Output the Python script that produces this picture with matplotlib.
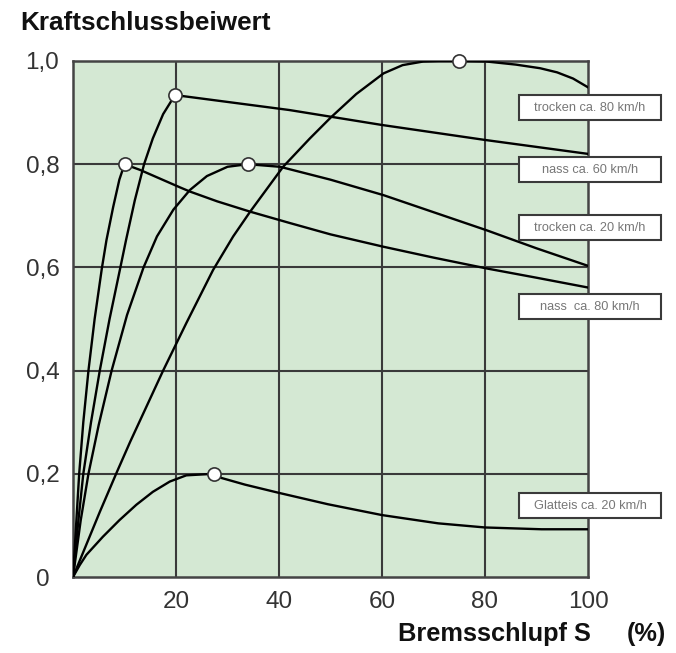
import matplotlib
matplotlib.use("Agg")
import matplotlib.pyplot as plt
from matplotlib.patches import Rectangle

plt.rcParams['font.family'] = ['Liberation Sans', 'DejaVu Sans']

# ---- data ----
# curve peaking at (75, 1.0)
xa = [0, 2.6, 5.2, 8.5, 11.1, 17.5, 22, 27.2, 31.1, 34.4, 40.8, 46, 50, 55, 60.3, 64, 68, 71, 75, 80.3, 86, 90.7, 94, 97.1, 100]
ya = [0, 0.063, 0.126, 0.203, 0.262, 0.4, 0.492, 0.595, 0.66, 0.708, 0.795, 0.85, 0.89, 0.936, 0.976, 0.992, 0.999, 1.0, 1.0, 0.999, 0.993, 0.986, 0.978, 0.966, 0.949]
# curve peaking at (20, 0.934)
xb = [0, 1, 2, 3.5, 5.2, 7.1, 9.2, 10.3, 12, 13.8, 15.5, 17.5, 19.8, 42, 60, 80, 100]
yb = [0, 0.105, 0.2, 0.3, 0.4, 0.5, 0.6, 0.653, 0.73, 0.8, 0.85, 0.897, 0.934, 0.905, 0.876, 0.847, 0.82]
# curve peaking at (34, 0.80)
xc = [0, 1.5, 3, 5, 7.5, 10.5, 13.7, 16.3, 19.5, 22.7, 26, 30, 33.9, 40.2, 50, 60.3, 70, 80.3, 90, 100]
yc = [0, 0.11, 0.2, 0.295, 0.4, 0.508, 0.6, 0.66, 0.712, 0.75, 0.777, 0.795, 0.80, 0.795, 0.77, 0.740, 0.707, 0.672, 0.637, 0.603]
# curve peaking at (10, 0.80)
xd = [0, 0.6, 1.2, 2, 3, 4.2, 5.6, 6.5, 7.8, 9, 10, 13, 20.8, 22.7, 28, 34.4, 42.1, 50, 60.3, 70, 80.3, 90, 100]
yd = [0, 0.1, 0.2, 0.3, 0.4, 0.5, 0.598, 0.653, 0.717, 0.77, 0.80, 0.789, 0.755, 0.747, 0.728, 0.708, 0.686, 0.664, 0.640, 0.619, 0.598, 0.580, 0.561]
# Glatteis curve peaking at (27.3, 0.2)
xe = [0, 1.3, 2.6, 5.8, 9, 12.3, 15.5, 18.8, 22, 27.3, 28.8, 33.4, 40, 49.5, 60, 70.9, 80, 91, 100]
ye = [0, 0.023, 0.043, 0.078, 0.11, 0.140, 0.165, 0.185, 0.197, 0.2, 0.192, 0.179, 0.163, 0.141, 0.120, 0.104, 0.096, 0.0925, 0.0925]

peak_x = [75, 19.8, 33.9, 10, 27.3]
peak_y = [1.0, 0.934, 0.80, 0.80, 0.2]

labels = ["trocken ca. 80 km/h", "nass ca. 60 km/h", "trocken ca. 20 km/h",
          "nass  ca. 80 km/h", "Glatteis ca. 20 km/h"]
label_y = [0.910, 0.790, 0.678, 0.525, 0.139]

xticks = [20, 40, 60, 80, 100]
xticklabels = ["20", "40", "60", "80", "100"]
yticks = [0, 0.2, 0.4, 0.6, 0.8, 1.0]
yticklabels = ["0", "0,2", "0,4", "0,6", "0,8", "1,0"]

# ---- figure ----
fig = plt.figure(figsize=(6.76, 6.53), dpi=100)
ax = fig.add_axes([73/676, 1-577/653, (588-73)/676, (577-61)/653])
ax.set_facecolor('#d4e8d3')
ax.set_xlim(0, 100)
ax.set_ylim(0, 1.0)

for v in [20, 40, 60, 80]:
    ax.axvline(v, color='#3a3a3a', lw=1.5, zorder=1)
for v in [0.2, 0.4, 0.6, 0.8]:
    ax.axhline(v, color='#3a3a3a', lw=1.5, zorder=1)

for xs, ys in [(xa, ya), (xb, yb), (xc, yc), (xd, yd), (xe, ye)]:
    ax.plot(xs, ys, color='black', lw=1.7, solid_joinstyle='round', zorder=3)

ax.plot(peak_x, peak_y, 'o', ms=9.5, mfc='white', mec='#333333', mew=1.2,
        zorder=5, clip_on=False)

for s in ax.spines.values():
    s.set_color('#444444')
    s.set_linewidth(1.8)

ax.set_xticks(xticks)
ax.set_xticklabels(xticklabels)
ax.set_yticks(yticks)
ax.set_yticklabels(yticklabels, ha='center')
ax.tick_params(length=0, labelsize=17.5, colors='#333333')
ax.tick_params(axis='x', pad=10)
ax.tick_params(axis='y', pad=22)

# label boxes
box_x0 = (519 - 73) / 515 * 100
box_x1 = (661 - 73) / 515 * 100
box_h = 25 / 516
for lab, yv in zip(labels, label_y):
    ax.add_patch(Rectangle((box_x0, yv - box_h/2), box_x1 - box_x0, box_h,
                           facecolor='white', edgecolor='#3a3a3a', lw=1.5,
                           clip_on=False, zorder=6))
    ax.text((box_x0 + box_x1)/2, yv - 0.002, lab, ha='center', va='center',
            fontsize=9.2, color='#777777', clip_on=False, zorder=7)

fig.text(20/676, 1-30/653, "Kraftschlussbeiwert", fontsize=18.8,
         fontweight='bold', color='#111111', ha='left', va='baseline')
fig.text(398/676, 1-641/653, "Bremsschlupf S", fontsize=18.3,
         fontweight='bold', color='#111111', ha='left', va='baseline')
fig.text(627/676, 1-641/653, "(%)", fontsize=18.3,
         fontweight='bold', color='#111111', ha='left', va='baseline')

fig.savefig("out.png", dpi=100)
